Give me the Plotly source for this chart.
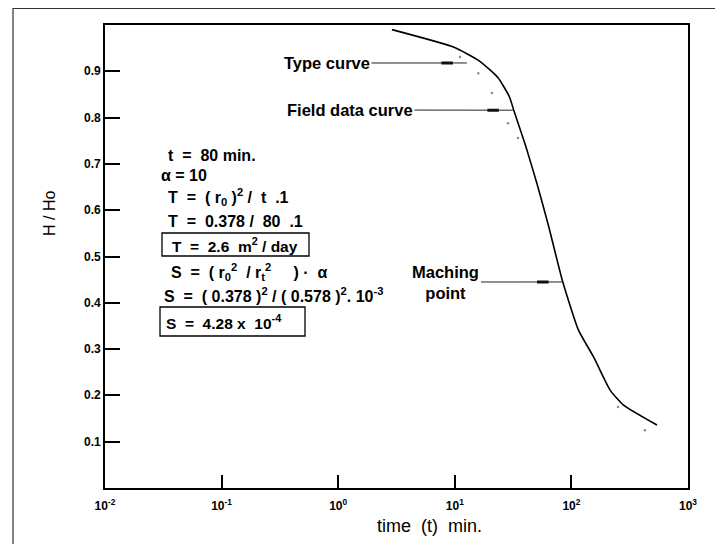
import math
import plotly.graph_objects as go

# ---------------- data ----------------
type_t = [2.89, 9.85, 16.3, 23.5, 29.4, 32.2, 40.5, 50.7, 63.7, 83.9, 115, 155, 214, 280, 542]
type_h = [0.990, 0.952, 0.922, 0.886, 0.845, 0.814, 0.739, 0.657, 0.566, 0.447,
          0.341, 0.283, 0.212, 0.179, 0.136]

field_t = [11.1, 15.9, 20.8, 28.6, 34.8, 251, 427]
field_h = [0.931, 0.896, 0.853, 0.788, 0.756, 0.175, 0.125]

y_tick_vals = [0.1, 0.2, 0.3, 0.4, 0.5, 0.6, 0.7, 0.8, 0.9]
y_tick_text = ["0.1", "0.2", "0.3", "0.4", "0.5", "0.6", "0.7", "0.8", "0.9"]
x_tick_vals = [0.01, 0.1, 1, 10, 100, 1000]
x_tick_text = ["10<sup>-2</sup>", "10<sup>-1</sup>", "10<sup>0</sup>",
               "10<sup>1</sup>", "10<sup>2</sup>", "10<sup>3</sup>"]

pointer_labels = ["Type curve", "Field data curve", "Maching<br>point"]
pointer_t = [12.7, 31.5, 84]
pointer_h = [0.918, 0.816, 0.445]

NB = "\u00a0"
calc_lines = [
    f"t{NB*2}={NB*2}80 min.",
    f"α{NB}={NB}10",
    f"T{NB*2}={NB*2}({NB}r<sub>0</sub>{NB})<sup>2</sup>{NB}/{NB*2}t{NB*2}.1",
    f"T{NB*2}={NB*2}0.378{NB}/{NB*2}80{NB*2}.1",
    f"T{NB*2}={NB*2}2.6{NB*2}m<sup>2</sup>{NB}/{NB}day",
    f"S{NB*2}={NB*2}({NB}r<sub>0</sub><sup>2</sup>{NB*2}/{NB}r<sub>t</sub><sup>2</sup>{NB*5}){NB}·{NB*2}α",
    f"S{NB*2}={NB*2}({NB}0.378{NB})<sup>2</sup>{NB}/{NB}({NB}0.578{NB})<sup>2</sup>.{NB}10<sup>-3</sup>",
    f"S{NB*2}={NB*2}4.28{NB}x{NB*2}10<sup>-4</sup>",
]
calc_sizes = [16, 16, 16, 16, 15.5, 16, 16, 15.5]

# ---------------- layout helpers (screen pixel positions) ----------------
OFF = 8                      # page body margin
W, H = 723 - OFF, 544 - OFF  # figure size
PL, PR, PT, PB = 105, 688, 25, 488   # plot area on screen


def px(x):
    return (x - PL) / (PR - PL)


def py(y):
    return (PB - y) / (PB - PT)


FONT = "Liberation Sans, Arial, sans-serif"

fig = go.Figure()
fig.add_trace(go.Scatter(x=type_t, y=type_h, mode="lines",
                         line=dict(color="black", width=1.6, shape="spline", smoothing=0.5),
                         hoverinfo="skip"))
fig.add_trace(go.Scatter(x=field_t, y=field_h, mode="markers",
                         marker=dict(color="#8a8a8a", size=2.5, symbol="circle"),
                         hoverinfo="skip"))

annotations = []
# y tick labels
for v, lab in zip(y_tick_vals, y_tick_text):
    annotations.append(dict(x=px(103), y=v, xref="paper", yref="y",
                            xanchor="right", yanchor="middle",
                            text=f"<b>{lab}</b>", showarrow=False,
                            font=dict(family=FONT, size=12, color="black")))

# pointer labels
text_pos = [(327, 63), (350, 110), (446, 282)]
for lab, t, h, (tx, ty) in zip(pointer_labels, pointer_t, pointer_h, text_pos):
    tip_x = PL + (math.log10(t) + 2) * (PR - PL) / 5
    tip_y = PB - h * (PB - PT)
    annotations.append(dict(
        x=math.log10(t), y=h, xref="x", yref="y",
        text=f"<b>{lab}</b>", showarrow=True, arrowhead=0, arrowwidth=1,
        arrowcolor="#222", ax=tx - tip_x, ay=ty - tip_y, axref="pixel", ayref="pixel",
        font=dict(family=FONT, size=16.5, color="black"), align="center"))
    annotations.append(dict(
        x=math.log10(t), y=h, xref="x", yref="y", text="", showarrow=True,
        arrowhead=0, arrowwidth=3, arrowcolor="#111", ax=-27, ay=0,
        axref="pixel", ayref="pixel", standoff=14))

# calculation block
calc_pos = [(166, 155), (159, 175), (166, 197), (166, 222), (170, 245),
            (169, 272), (162, 295), (164, 322)]
for line, (lx, ly), fs in zip(calc_lines, calc_pos, calc_sizes):
    annotations.append(dict(
        x=px(lx), y=py(ly), xref="paper", yref="paper", xanchor="left",
        yanchor="middle", text=f"<b>{line}</b>", showarrow=False,
        font=dict(family=FONT, size=fs, color="black")))

# axis titles
annotations.append(dict(x=px(430), y=py(526), xref="paper", yref="paper",
                        xanchor="center", yanchor="middle",
                        text=f"time{NB*2}(t){NB*2}min.", showarrow=False,
                        font=dict(family=FONT, size=18, color="black")))
annotations.append(dict(x=px(50), y=py(213), xref="paper", yref="paper",
                        xanchor="center", yanchor="middle",
                        text=f"H{NB}/{NB}Ho", showarrow=False, textangle=-90,
                        font=dict(family=FONT, size=16, color="black")))

shapes = [
    # boxes around results
    dict(type="rect", xref="paper", yref="paper", x0=px(162), x1=px(309),
         y0=py(256), y1=py(233), line=dict(color="black", width=1.3)),
    dict(type="rect", xref="paper", yref="paper", x0=px(160), x1=px(305),
         y0=py(336), y1=py(307), line=dict(color="black", width=1.3)),
    # outer frame (left and top edges visible)
    dict(type="rect", xref="paper", yref="paper", x0=px(13), x1=px(760),
         y0=py(600), y1=py(8.5), line=dict(color="#333", width=1.2)),
]

fig.update_layout(
    width=W, height=H,
    margin=dict(l=PL - OFF, r=W + OFF - PR, t=PT - OFF, b=H + OFF - PB),
    paper_bgcolor="white", plot_bgcolor="white",
    showlegend=False,
    annotations=annotations, shapes=shapes,
    xaxis=dict(type="log", range=[-2, 3], showline=True, linecolor="black",
               linewidth=1.5, mirror=True, ticks="inside", ticklen=13,
               tickwidth=2, tickcolor="black", tickvals=x_tick_vals,
               ticktext=[f"<b>{t}</b>" for t in x_tick_text],
               tickfont=dict(family=FONT, size=12, color="black"),
               ticklabelstandoff=6,
               showgrid=False, zeroline=False),
    yaxis=dict(range=[0, 1.0], showline=True, linecolor="black",
               linewidth=1.5, mirror=True, ticks="inside", ticklen=15,
               tickwidth=2, tickcolor="black", tickvals=y_tick_vals,
               showticklabels=False,
               showgrid=False, zeroline=False),
)

fig.write_html("out.html")
